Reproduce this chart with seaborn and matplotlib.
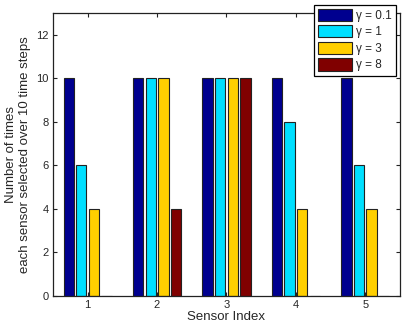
import matplotlib
matplotlib.use("Agg")
import matplotlib.pyplot as plt
import seaborn as sns
import pandas as pd

sensors = ["1", "2", "3", "4", "5"]
gammas = ["γ = 0.1", "γ = 1", "γ = 3", "γ = 8"]
vals_g01 = [10, 10, 10, 10, 10]
vals_g1 = [6, 10, 10, 8, 6]
vals_g3 = [4, 10, 10, 4, 4]
vals_g8 = [0, 4, 10, 0, 0]
colors = ["#00008F", "#00DFFF", "#FFCF00", "#800000"]

rows = []
for g, vals in zip(gammas, [vals_g01, vals_g1, vals_g3, vals_g8]):
    for s, v in zip(sensors, vals):
        rows.append({"Sensor": s, "Gamma": g, "Count": v})
df = pd.DataFrame(rows)

sns.set_style("white")
plt.rcParams["font.family"] = ["Liberation Sans", "DejaVu Sans"]

fig = plt.figure(figsize=(4.04, 3.27), dpi=100)
ax = fig.add_axes([0.131, 0.095, 0.859, 0.865])
sns.barplot(data=df, x="Sensor", y="Count", hue="Gamma", order=sensors,
            hue_order=gammas, palette=colors, width=0.727, gap=0.18,
            edgecolor="#222222", linewidth=0.8, ax=ax, errorbar=None, saturation=1)

ax.set_xlim(-0.5, 4.5)
ax.set_ylim(0, 13)
ax.set_yticks(range(0, 13, 2))
ax.set_xlabel("Sensor Index", fontsize=9.5, labelpad=1)
ax.set_ylabel("Number of times\neach sensor selected over 10 time steps", fontsize=9.5, labelpad=4)
ax.tick_params(axis="both", direction="in", length=3, labelsize=8, top=True, right=True,
               bottom=True, left=True, color="#222222", pad=3)
for sp in ax.spines.values():
    sp.set_visible(True)
    sp.set_color("#222222")
    sp.set_linewidth(0.9)

leg = ax.legend(loc="upper right", bbox_to_anchor=(0.988, 1.03), fontsize=8.5,
                handlelength=2.9, handleheight=1.2, handletextpad=0.3,
                labelspacing=0.3, borderpad=0.35, borderaxespad=0.0,
                frameon=True, fancybox=False, framealpha=1, title=None)
leg.get_frame().set_edgecolor("black")
leg.get_frame().set_linewidth(0.9)
leg.set_zorder(10)

fig.savefig("out.png", dpi=100)
